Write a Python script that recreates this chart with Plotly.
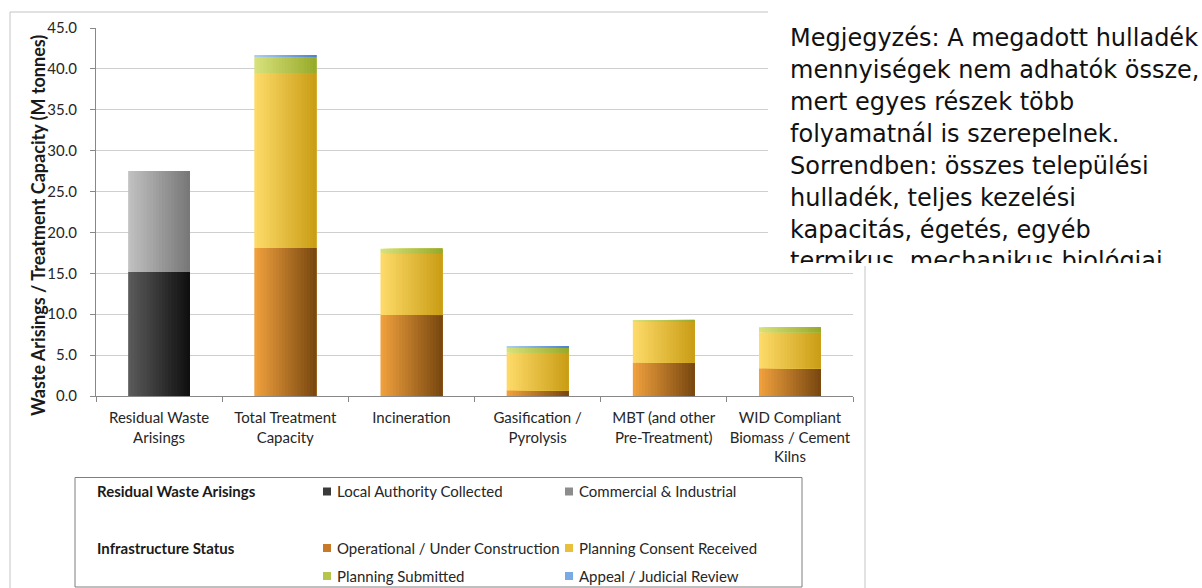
import plotly.graph_objects as go
import numpy as np

# ---------------- data ----------------
categories = [
    "Residual Waste<br>Arisings",
    "Total Treatment<br>Capacity",
    "Incineration",
    "Gasification /<br>Pyrolysis",
    "MBT (and other<br>Pre-Treatment)",
    "WID Compliant<br>Biomass / Cement<br>Kilns",
]
local_authority = [15.2, 0, 0, 0, 0, 0]
commercial_industrial = [12.3, 0, 0, 0, 0, 0]
operational = [0, 18.1, 9.9, 0.7, 4.1, 3.4]
consent_received = [0, 21.4, 7.5, 4.6, 5.0, 4.4]
planning_submitted = [0, 2.0, 0.6, 0.6, 0.2, 0.6]
appeal_review = [0, 0.2, 0.0, 0.2, 0.0, 0.0]

series_names = [
    "Local Authority Collected",
    "Commercial & Industrial",
    "Operational / Under Construction",
    "Planning Consent Received",
    "Planning Submitted",
    "Appeal / Judicial Review",
]
series_values = [local_authority, commercial_industrial, operational,
                 consent_received, planning_submitted, appeal_review]
# (left colour, right colour) of the horizontal gradient
series_colors = [
    ("#5c5c5c", "#0e0e0e"),
    ("#c2c2c2", "#767676"),
    ("#f2a23e", "#77460f"),
    ("#fedc6a", "#c99c14"),
    ("#d8e27c", "#97aa2a"),
    ("#acd0f2", "#4a82cf"),
]
legend_colors = ["#3a3a3a", "#8c8c8c", "#c87a28", "#e8c03c", "#b4c44c", "#7aaae6"]

y_ticks = [0, 5, 10, 15, 20, 25, 30, 35, 40, 45]
y_title = "Waste Arisings / Treatment Capacity (M tonnes)"
note_lines = [
    "Megjegyzés: A megadott hulladék",
    "mennyiségek nem adhatók össze,",
    "mert egyes részek több",
    "folyamatnál is szerepelnek.",
    "Sorrendben: összes települési",
    "hulladék, teljes kezelési",
    "kapacitás, égetés, egyéb",
    "termikus, mechanikus biológiai",
]

# ---------------- layout geometry (pixels) ----------------
W_PX, H_PX = 1202, 588
L, R, T, B = 96, 349, 28, 192
PW = W_PX - L - R
PH = H_PX - T - B


def px(x):
    return (x - L) / PW


def py(y):
    return (H_PX - B - y) / PH


def hex2rgb(h):
    h = h.lstrip("#")
    return np.array([int(h[i:i + 2], 16) for i in (0, 2, 4)], dtype=float)


def mix(c1, c2, t):
    c = hex2rgb(c1) * (1 - t) + hex2rgb(c2) * t
    return "rgb(%d,%d,%d)" % tuple(np.round(c).astype(int))


FONT = "Lato"
fig = go.Figure()

bar_w = 0.49
n_strips = 20
strip_w = bar_w / n_strips
base = np.zeros(len(categories))
for name, vals, (c_left, c_right) in zip(series_names, series_values, series_colors):
    vals = np.array(vals, dtype=float)
    for i in range(n_strips):
        t = (i + 0.5) / n_strips
        fig.add_trace(go.Bar(
            x=categories, y=vals, base=base.copy(),
            offset=-bar_w / 2 + i * strip_w, width=bar_w - i * strip_w,
            marker=dict(color=mix(c_left, c_right, t), line=dict(width=0)),
            name=name, showlegend=False, hoverinfo="skip",
        ))
    base = base + vals

fig.update_layout(
    width=W_PX, height=H_PX,
    margin=dict(l=L, r=R, t=T, b=B),
    barmode="overlay",
    plot_bgcolor="white", paper_bgcolor="white",
    font=dict(family=FONT, size=14, color="#262626"),
    showlegend=False,
)
fig.update_xaxes(
    type="category", showline=True, linecolor="#888888", linewidth=1,
    ticks="outside", tickson="boundaries", ticklen=5, tickcolor="#888888",
    ticklabelstandoff=8, tickangle=0,
    showgrid=False, tickfont=dict(family=FONT, size=15, color="#262626"),
)
fig.update_yaxes(
    range=[0, 45], tickvals=y_ticks, tickformat=".1f",
    showline=True, linecolor="#888888", linewidth=1,
    ticks="outside", ticklen=5, tickcolor="#888888",
    ticklabelstandoff=10,
    showgrid=True, gridcolor="#cfcfcf", gridwidth=1, zeroline=False,
    tickfont=dict(family=FONT, size=15, color="#262626"),
)

shapes = []
annotations = []
# outer chart frame
shapes.append(dict(type="rect", xref="paper", yref="paper", layer="above",
                   x0=px(10), x1=px(865), y0=py(12), y1=py(600),
                   line=dict(color="#c4c4c4", width=1), fillcolor="rgba(0,0,0,0)"))
# white note box covering the top-right corner
shapes.append(dict(type="rect", xref="paper", yref="paper", layer="above",
                   x0=px(768), x1=px(1210), y0=py(-5), y1=py(266),
                   line=dict(width=0), fillcolor="white"))
# legend box
shapes.append(dict(type="rect", xref="paper", yref="paper", layer="above",
                   x0=px(75), x1=px(802), y0=py(477.5), y1=py(587),
                   line=dict(color="#7f7f7f", width=1), fillcolor="rgba(0,0,0,0)"))

# y-axis title
annotations.append(dict(text="<b>%s</b>" % y_title, xref="paper", yref="paper",
                        x=px(38), y=py(226), textangle=-90, showarrow=False,
                        xanchor="center", yanchor="middle",
                        font=dict(family=FONT, size=18, color="#1a1a1a")))

# legend contents
annotations.append(dict(text="<b>Residual Waste Arisings</b>", xref="paper", yref="paper",
                        x=px(95), y=py(491.5), xanchor="left", yanchor="middle",
                        showarrow=False, font=dict(family=FONT, size=15, color="#1a1a1a")))
annotations.append(dict(text="<b>Infrastructure Status</b>", xref="paper", yref="paper",
                        x=px(95), y=py(548), xanchor="left", yanchor="middle",
                        showarrow=False, font=dict(family=FONT, size=15, color="#1a1a1a")))
legend_pos = [(323, 491.5), (565, 491.5), (323, 548), (565, 548), (323, 576), (565, 576)]
for name, col, (lx, ly) in zip(series_names, legend_colors, legend_pos):
    shapes.append(dict(type="rect", xref="paper", yref="paper", layer="above",
                       x0=px(lx), x1=px(lx + 8), y0=py(ly + 4), y1=py(ly - 4),
                       line=dict(width=0), fillcolor=col))
    annotations.append(dict(text=name, xref="paper", yref="paper",
                            x=px(lx + 12), y=py(ly), xanchor="left", yanchor="middle",
                            showarrow=False, font=dict(family=FONT, size=15, color="#262626")))

# note text
NOTE_FONT = "DejaVu Sans"
note_size = 24
first_center = 37.6
spacing = 32.0
for i, line in enumerate(note_lines):
    cy = first_center + i * spacing
    if i < len(note_lines) - 1:
        annotations.append(dict(text=line, xref="paper", yref="paper",
                                x=px(789), y=py(cy), xanchor="left", yanchor="middle",
                                showarrow=False, borderpad=0,
                                font=dict(family=NOTE_FONT, size=note_size, color="#111111")))
    else:
        box_top = cy - note_size * 1.3 / 2
        annotations.append(dict(text=line, xref="paper", yref="paper",
                                x=px(789), y=py(box_top), xanchor="left", yanchor="top",
                                valign="top", height=262 - box_top, width=430, align="left",
                                showarrow=False, borderpad=0,
                                font=dict(family=NOTE_FONT, size=note_size, color="#111111")))

fig.update_layout(shapes=shapes, annotations=annotations)
fig.write_html("out.html", post_script="document.body.style.margin='0px';",
               config={"displayModeBar": False})
